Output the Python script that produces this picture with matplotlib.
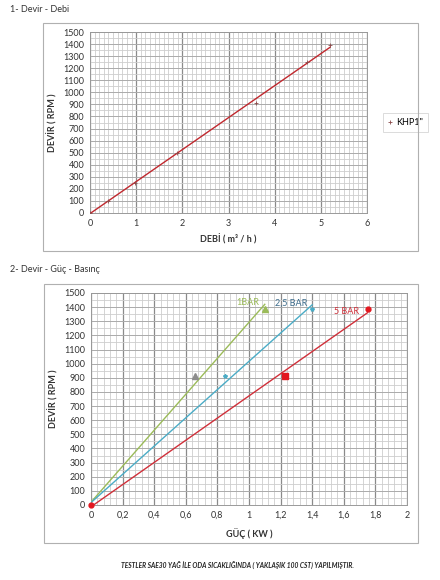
import numpy as np
import matplotlib
matplotlib.use("Agg")
import matplotlib.pyplot as plt
from matplotlib.patches import Rectangle
from matplotlib.ticker import MultipleLocator, FuncFormatter

plt.rcParams['font.family'] = ['Lato', 'DejaVu Sans']

# chart 1 - Devir / Debi
debi = [0, 0.38, 0.97, 1.88, 3.6, 4.7, 5.2]
devir1 = [0, 100, 250, 500, 910, 1250, 1390]

# chart 2 - Devir / Guc / Basinc
guc_1bar = [0, 0.66, 1.1]
devir_1bar = [0, 910, 1390]
guc_25bar = [0, 0.85, 1.4]
devir_25bar = [0, 910, 1390]
guc_5bar = [0, 1.23, 1.75]
devir_5bar = [0, 910, 1390]

GREEN = '#9BBB59'
BLUE = '#4BACC6'
RED = '#D0303A'
TXT = '#333333'


def style_grid(ax, xmaj, xmin, xmax):
    ax.set_xlim(0, xmax)
    ax.set_ylim(0, 1500)
    ax.xaxis.set_major_locator(MultipleLocator(xmaj))
    ax.xaxis.set_minor_locator(MultipleLocator(xmin))
    ax.yaxis.set_major_locator(MultipleLocator(100))
    ax.yaxis.set_minor_locator(MultipleLocator(50))
    ax.grid(which='minor', color='#cdcdcd', lw=0.6)
    ax.grid(which='major', axis='y', color='#aaaaaa', lw=0.7)
    ax.grid(which='major', axis='x', color='#8a8a8a', lw=0.9)
    ax.set_axisbelow(True)
    ax.tick_params(which='both', length=0, labelsize=6.5, colors=TXT, pad=4)
    for s in ax.spines.values():
        s.set_color('#999999')
        s.set_linewidth(0.7)


def trend(ax, x, y, color):
    # linear trendline like excel
    k, b = np.polyfit(x, y, 1)
    xs = np.array([0, max(x)])
    ax.plot(xs, k * xs + b, color=color, lw=1.0, zorder=3)


fig = plt.figure(figsize=(4.4, 5.8), dpi=100)

# frames around each chart
fig.add_artist(Rectangle((43 / 440, 1 - 251 / 580), 375 / 440, 228 / 580,
                         transform=fig.transFigure, fill=False,
                         edgecolor='#b0b0b0', lw=0.8))
fig.add_artist(Rectangle((44 / 440, 1 - 543 / 580), 374 / 440, 259 / 580,
                         transform=fig.transFigure, fill=False,
                         edgecolor='#b0b0b0', lw=0.8))

fig.text(10 / 440, 1 - 10 / 580, '1- Devir - Debi', fontsize=6.5,
         color=TXT, va='center')
fig.text(10 / 440, 1 - 269 / 580, '2- Devir - Güç - Basınç', fontsize=6.5,
         color=TXT, va='center')

# --- top chart
ax1 = fig.add_axes([90 / 440, 1 - 213 / 580, 277 / 440, 181 / 580])
style_grid(ax1, 1, 0.1, 6)
trend(ax1, debi, devir1, '#C0282E')
ax1.plot(debi, devir1, ls='none', marker='+', ms=3, mew=0.6,
         color='#8a4a4a', zorder=4, label='KHP1"')
ax1.set_xlabel('DEBİ ( m³ / h )', fontsize=6.5, fontweight='bold',
               color=TXT, labelpad=5)
ax1.set_ylabel('DEVİR ( RPM )', fontsize=6.5, fontweight='bold',
               color=TXT, labelpad=4)
leg = ax1.legend(loc='center left', bbox_to_anchor=(1.04, 0.5),
                 fontsize=6.5, frameon=True, handlelength=0.6,
                 handletextpad=0.4, borderpad=0.5, fancybox=False)
leg.get_frame().set_edgecolor('#cccccc')
leg.get_frame().set_linewidth(0.6)

# --- bottom chart
ax2 = fig.add_axes([91 / 440, 1 - 505 / 580, 316 / 440, 212 / 580])
style_grid(ax2, 0.2, 0.04, 2)
ax2.xaxis.set_major_formatter(FuncFormatter(
    lambda v, p: ('%g' % round(v, 2)).replace('.', ',')))
trend(ax2, guc_1bar, devir_1bar, GREEN)
trend(ax2, guc_25bar, devir_25bar, BLUE)
trend(ax2, guc_5bar, devir_5bar, RED)

ax2.plot(guc_1bar[1], devir_1bar[1], ls='none', marker='^', ms=4,
         color='#8c8c8c', zorder=4)
ax2.plot(guc_1bar[2], devir_1bar[2], ls='none', marker='^', ms=5,
         color=GREEN, zorder=4)
ax2.plot(guc_25bar[1:], devir_25bar[1:], ls='none', marker='*', ms=3,
         color=BLUE, zorder=4)
ax2.plot(guc_5bar[1], devir_5bar[1], ls='none', marker='s', ms=5,
         color='#E3171F', zorder=4)
ax2.plot(guc_5bar[2], devir_5bar[2], ls='none', marker='o', ms=3.5,
         color='#E3171F', zorder=4)
ax2.plot(guc_5bar[0], devir_5bar[0], ls='none', marker='o', ms=3.5,
         color='#E3171F', zorder=5, clip_on=False)

ax2.text(0.99, 1430, '1BAR', color=GREEN, fontsize=6.5, ha='center',
         va='center')
ax2.text(1.27, 1430, '2,5 BAR', color='#3c6b8a', fontsize=6.5,
         ha='center', va='center')
ax2.text(1.62, 1370, '5 BAR', color=RED, fontsize=6.5, ha='center',
         va='center')

ax2.set_xlabel('GÜÇ ( KW )', fontsize=6.5, fontweight='bold', color=TXT,
               labelpad=6)
ax2.set_ylabel('DEVİR ( RPM )', fontsize=6.5, fontweight='bold', color=TXT,
               labelpad=4)

fig.text(237 / 440, 1 - 565 / 580,
         'TESTLER SAE30 YAĞ İLE ODA SICAKLIĞINDA ( YAKLAŞIK 100 CST) YAPILMIŞTIR.',
         fontsize=4.8, fontweight='bold', fontstyle='italic', color='#222222',
         ha='center', va='center')

fig.savefig('out.png', dpi=100)
